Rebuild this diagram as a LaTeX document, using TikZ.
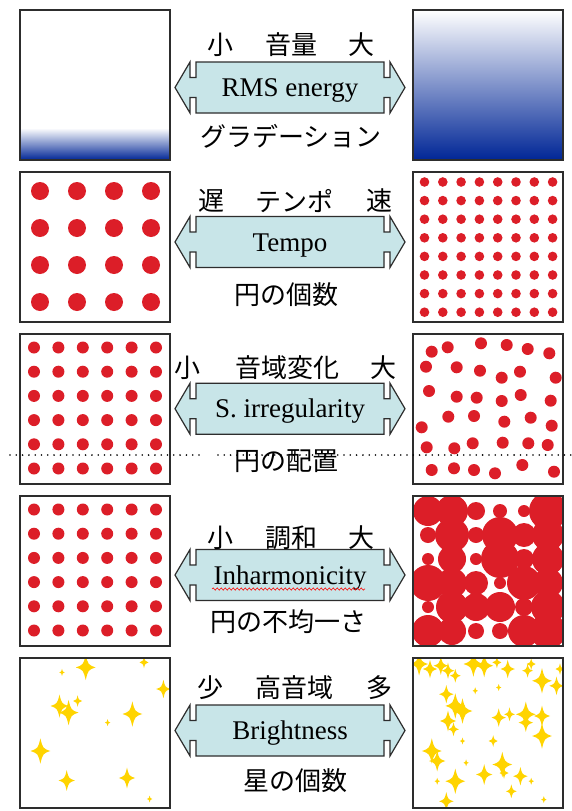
\documentclass[tikz,border=0pt]{standalone}
\usepackage{fontspec}
\setmainfont{Liberation Serif}
\newfontfamily\jpfont{Noto Sans CJK JP}
\usetikzlibrary{decorations.pathmorphing}
\definecolor{deepblue}{RGB}{0,38,150}
\definecolor{dotred}{RGB}{220,30,40}
\definecolor{starcol}{RGB}{255,212,0}
\definecolor{arrowfill}{RGB}{200,229,232}
\definecolor{edgegray}{RGB}{45,45,45}
\newcommand\dblarr[2]{%
\begin{scope}[shift={(290,#1)}]
\draw[arrowshape] (-94,-25.5) -- (94,-25.5) -- (94,-10) -- (100,-10) -- (100,-25.5) -- (115,0) -- (100,25.5) -- (100,10) -- (94,10) -- (94,25.5) -- (-94,25.5) -- (-94,10) -- (-100,10) -- (-100,25.5) -- (-115,0) -- (-100,-25.5) -- (-100,-10) -- (-94,-10) -- cycle;
\node[ltxt] (#2) at (0,9) {\strut};
\end{scope}}
\begin{document}
\begin{tikzpicture}[x=1pt,y=-1pt,
  panel/.style={draw=edgegray,line width=1.6pt},
  jtxt/.style={font=\jpfont\fontsize{26}{26}\selectfont,inner sep=0pt,anchor=center},
  ltxt/.style={font=\fontsize{27}{27}\selectfont,inner sep=0pt,anchor=base},
  arrowshape/.style={draw=edgegray,fill=arrowfill,line width=1.2pt,line join=miter},
  dotline/.style={line width=1.8pt,dash pattern=on 0pt off 6.3pt,line cap=round},
  spark/.pic={\fill[starcol] (0,1.15) .. controls (0.22,0.24) .. (0.9,0) .. controls (0.22,-0.24) .. (0,-1.15) .. controls (-0.22,-0.24) .. (-0.9,0) .. controls (-0.22,0.24) .. (0,1.15) -- cycle;}
]
\useasboundingbox[fill=white] (0,0) rectangle (571,811);

% ---------- Row 1: RMS energy ----------
\shade[top color=white,bottom color=deepblue] (20,128) rectangle (170,160);
\shade[top color=white,bottom color=deepblue] (413,10) rectangle (563,160);
\draw[panel] (20,10) rectangle (170,160);
\draw[panel] (413,10) rectangle (563,160);
\dblarr{87.5}{a1}
\node[ltxt] (l1) at (290,96.5) {RMS energy};
\node[jtxt] (t1a) at (220,44.5) {小};
\node[jtxt] (t1b) at (291,44.5) {音量};
\node[jtxt] (t1c) at (361,44.5) {大};
\node[jtxt] (b1) at (291,136) {グラデーション};

% ---------- Row 2: Tempo ----------
\foreach \x in {40,77,114,151}
  \foreach \y in {191,228,265,302}
    \fill[dotred] (\x,\y) circle[radius=9pt];
\foreach \i in {0,...,7}
  \foreach \j in {0,...,7}
    \fill[dotred] ({424.5+18.3*\i},{182+18.6*\j}) circle[radius=4.8pt];
\draw[panel] (20,172) rectangle (170,322);
\draw[panel] (413,172) rectangle (563,322);
\dblarr{242}{a2}
\node[ltxt] (l2) at (290,251) {Tempo};
\node[jtxt] (t2a) at (211,200.6) {遅};
\node[jtxt] (t2b) at (294,200.6) {テンポ};
\node[jtxt] (t2c) at (379,200.6) {速};
\node[jtxt] (b2) at (286,295) {円の個数};

% ---------- Row 3: S. irregularity ----------
\foreach \i in {0,...,5}
  \foreach \j in {0,...,5}
    \fill[dotred] ({34+24.4*\i},{347.5+24.2*\j}) circle[radius=6pt];
\foreach \x/\y in {431.7/351.7,447.7/347.3,481/343.3,506.7/345,527.7/349,549.3/353.3,
  426/366.7,456.7/367.3,480/370.7,501.7/377.7,520/371.7,555.7/377.7,
  429/391,456.7/396.7,476.7/397.7,501.7/401,520.7/395,550.7/400.7,
  448.3/416.7,474/416,504.3/421.7,530.7/417.7,551.7/425.7,421.7/427.3,
  426.7/447.3,454.3/448.3,472.7/443.3,502.7/442.7,528.3/443.3,547.7/445,
  431.7/470,454/468.3,474/470,495/473.3,522.3/465,554/471.7}
  \fill[dotred] (\x,\y) circle[radius=6pt];
\draw[panel] (20,334) rectangle (170,484);
\draw[panel] (413,334) rectangle (563,484);
\dblarr{408.7}{a3}
\node[ltxt] (l3) at (290,417.7) {S. irregularity};
\node[jtxt] (t3a) at (187,367.5) {小};
\node[jtxt] (t3b) at (287,367.5) {音域変化};
\node[jtxt] (t3c) at (383,367.5) {大};
\node[jtxt] (b3) at (286,461) {円の配置};

% ---------- Row 4: Inharmonicity ----------
\foreach \i in {0,...,5}
  \foreach \j in {0,...,5}
    \fill[dotred] ({34+24.4*\i},{509.5+24.2*\j}) circle[radius=6pt];
\begin{scope}
\clip (413,496) rectangle (563,646);
\foreach \x/\y/\r in {428/511/15,452/511/16,476/511/9,500/511/7,524/511/6,548/511/19,
  428/535/8,452/535/17,476/535/8,500/535/18,524/535/12,548/535/16,
  428/559/6,452/559/14,476/559/6,500/559/19,524/559/10,548/559/16,
  428/583/18,452/583/15,476/583/12,500/583/6,524/583/17,548/583/15,
  428/607/6,452/607/16,476/607/14,500/607/15,524/607/9,548/607/17,
  428/631/16,452/631/14,476/631/8,500/631/8,524/631/16,548/631/18}
  \fill[dotred] (\x,\y) circle[radius=\r pt];
\end{scope}
\draw[panel] (20,496) rectangle (170,646);
\draw[panel] (413,496) rectangle (563,646);
\dblarr{575}{a4}
\node[ltxt] (l4) at (290,584) {Inharmonicity};
\draw[red,line width=0.6pt,decorate,decoration={snake,amplitude=1.1pt,segment length=4pt}] (212,589) -- (365,589);
\node[jtxt] (t4a) at (220,538) {小};
\node[jtxt] (t4b) at (291,538) {調和};
\node[jtxt] (t4c) at (361,538) {大};
\node[jtxt] (b4) at (288,621.6) {円の不均一さ};

% ---------- Row 5: Brightness ----------
\begin{scope}
\clip (20,658) rectangle (170,808);
\foreach \x/\y/\r in {85.7/667.4/11,62/672.4/3,144/662.4/5,163.4/689/8,59.5/706/10,68.6/712.6/11,
  77.6/701/5,132.4/714/11,107.6/722.6/3,40.4/751/11,66.7/780.5/9,127/778/9,149.6/799/3}
  \pic[scale=\r] at (\x,\y) {spark};
\end{scope}
\begin{scope}
\clip (413,658) rectangle (563,808);
\foreach \x/\y/\r in {419.1/664/10,430/669/8,440.8/665.7/8,448/670.7/7,455.3/675.7/6,473.4/664/11,
  484.2/665.7/10,496.9/662.4/5,507.7/669/8,527.6/670.7/6,531.2/664/5,542/680.8/11,556.5/685.8/8,
  560/669/5,446.3/694.2/8,455.3/705.9/11,462.5/711/11,448/721/9,453.5/729.3/6,475.2/690.8/3,
  498.7/687.5/3,498.7/717.6/8,509.5/714.3/6,525.8/714.3/11,542/716/9,542/736/11,525.8/722.6/8,
  431.8/751/11,437.2/761/9,462.5/741/3,493.2/741/5,502.3/764.5/11,484.2/774.5/9,455.3/781.2/11,
  466.1/762.8/3,520.4/776.2/8,531.2/781.2/3,511.3/791.3/6,543.8/799.6/3,446.3/801.3/8,
  437.2/781.2/3,504/773/5}
  \pic[scale=\r] at (\x,\y) {spark};
\end{scope}
\draw[panel] (20,658) rectangle (170,808);
\draw[panel] (413,658) rectangle (563,808);
\dblarr{730.5}{a5}
\node[ltxt] (l5) at (290,739.5) {Brightness};
\node[jtxt] (t5a) at (210,687.5) {少};
\node[jtxt] (t5b) at (294,687.5) {高音域};
\node[jtxt] (t5c) at (379,687.5) {多};
\node[jtxt] (b5) at (295,781) {星の個数};

% ---------- dotted separator ----------
\coordinate (d0) at (10,455);
\coordinate (d1) at (202,455);
\coordinate (d2) at (218,455);
\coordinate (d3) at (571,455);
\draw[dotline] (d0) -- (d1);
\draw[dotline] (d2) -- (d3);
\end{tikzpicture}
\end{document}
